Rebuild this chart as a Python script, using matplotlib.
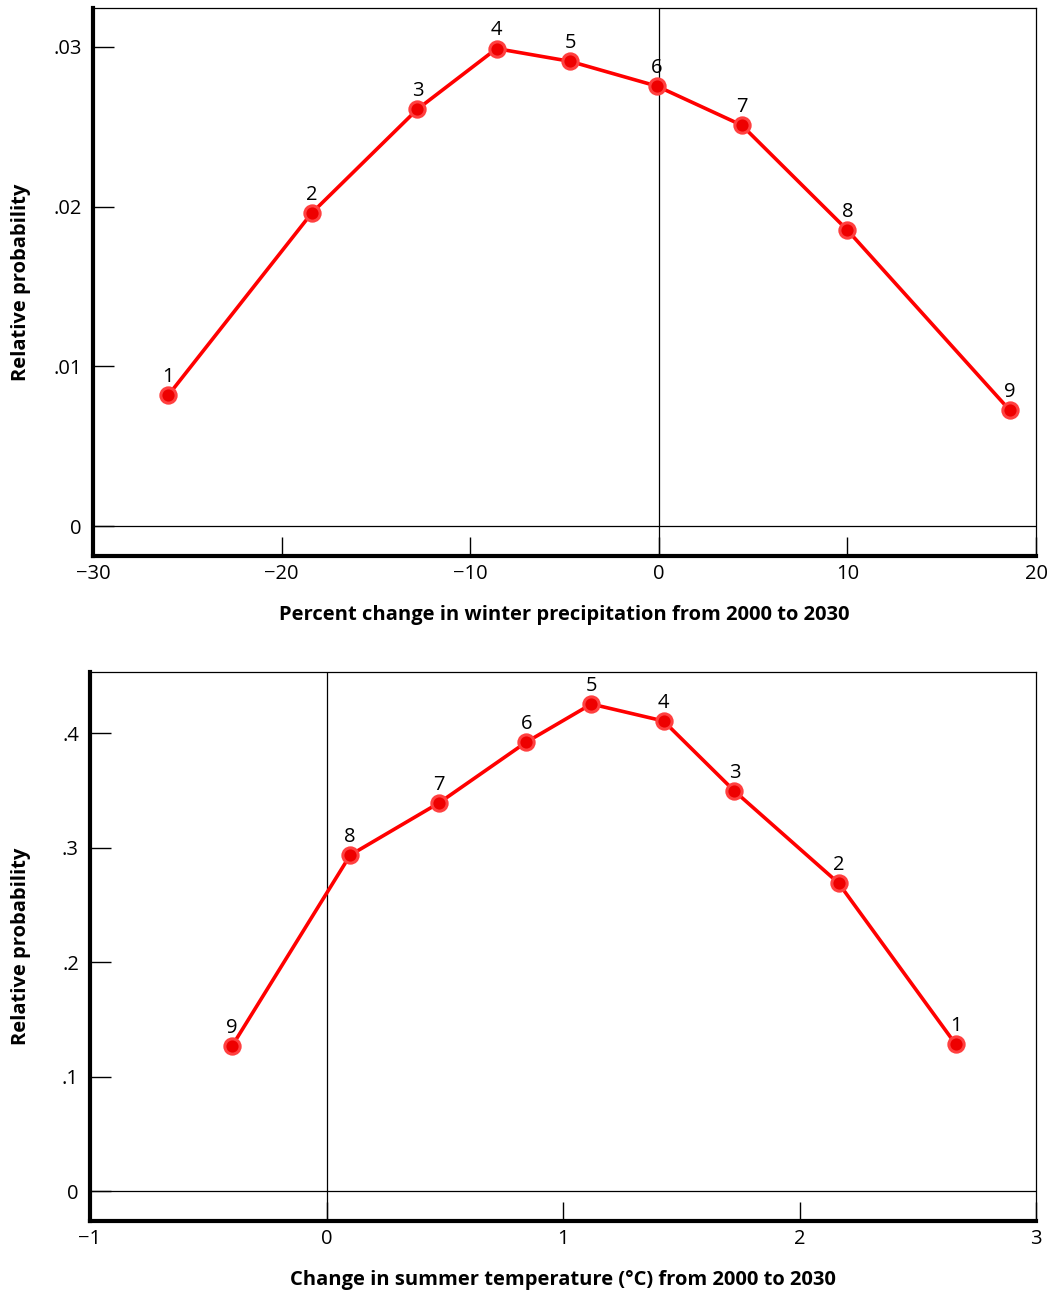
import matplotlib.pyplot as plt

plt.rcParams['font.family'] = ['Open Sans', 'DejaVu Sans']

# top panel: winter precipitation
precip_x = [-26.0, -18.4, -12.8, -8.6, -4.7, -0.1, 4.4, 10.0, 18.6]
precip_y = [0.0082, 0.0196, 0.0261, 0.0299, 0.0291, 0.02755, 0.0251, 0.01853, 0.00726]
precip_lab = ['1', '2', '3', '4', '5', '6', '7', '8', '9']

# bottom panel: summer temperature
temp_x = [-0.40, 0.10, 0.475, 0.845, 1.12, 1.425, 1.725, 2.165, 2.66]
temp_y = [0.1266, 0.2934, 0.3389, 0.3921, 0.4253, 0.4105, 0.3493, 0.269, 0.1284]
temp_lab = ['9', '8', '7', '6', '5', '4', '3', '2', '1']

precip_yticks = [0, 0.01, 0.02, 0.03]
precip_yticklabels = ['0', '.01', '.02', '.03']
precip_xticks = [-30, -20, -10, 0, 10, 20]
precip_xticklabels = ['\u221230', '\u221220', '\u221210', '0', '10', '20']

temp_yticks = [0, 0.1, 0.2, 0.3, 0.4]
temp_yticklabels = ['0', '.1', '.2', '.3', '.4']
temp_xticks = [-1, 0, 1, 2, 3]
temp_xticklabels = ['\u22121', '0', '1', '2', '3']

fig = plt.figure(figsize=(10.47, 12.94), dpi=100)
ax1 = fig.add_axes([0.0888, 0.5703, 0.9007, 0.4235])
ax2 = fig.add_axes([0.0860, 0.0564, 0.9035, 0.4243])


def style(ax, x, y, labs, xlim, ylim, xt, xtl, yt, ytl, xlabel, ylab_x):
    ax.axhline(0, color='black', lw=0.9, zorder=1)
    ax.axvline(0, color='black', lw=0.9, zorder=1)
    ax.plot(x, y, color='#ff0000', lw=2.6, marker='o', ms=11,
            mfc='#ee0000', mec='#ff4040', mew=2.2, zorder=3)
    for xi, yi, t in zip(x, y, labs):
        ax.annotate(t, (xi, yi), xytext=(0, 6), textcoords='offset points',
                    ha='center', va='bottom', fontsize=14.5)
    ax.set_xlim(*xlim)
    ax.set_ylim(*ylim)
    ax.set_xticks(xt)
    ax.set_xticklabels(xtl)
    ax.set_yticks(yt)
    ax.set_yticklabels(ytl)
    ax.tick_params(axis='y', direction='in', length=15, width=1, pad=8, labelsize=14.5)
    ax.tick_params(axis='x', direction='in', length=14, width=1, pad=6, labelsize=14.5)
    ax.spines['left'].set_linewidth(3)
    ax.spines['bottom'].set_linewidth(3)
    ax.spines['top'].set_linewidth(0.9)
    ax.spines['right'].set_linewidth(0.9)
    ax.set_ylabel('Relative probability', fontsize=14.5, fontweight='bold')
    ax.yaxis.set_label_coords(ylab_x, 0.5)
    ax.set_xlabel(xlabel, fontsize=14.5, fontweight='bold', labelpad=15)


style(ax1, precip_x, precip_y, precip_lab, (-30, 20), (-0.00188, 0.03244),
      precip_xticks, precip_xticklabels, precip_yticks, precip_yticklabels,
      'Percent change in winter precipitation from 2000 to 2030', -0.066)
style(ax2, temp_x, temp_y, temp_lab, (-1, 3), (-0.026, 0.4533),
      temp_xticks, temp_xticklabels, temp_yticks, temp_yticklabels,
      'Change in summer temperature (\u00b0C) from 2000 to 2030', -0.062)

fig.savefig('out.png', dpi=100)
